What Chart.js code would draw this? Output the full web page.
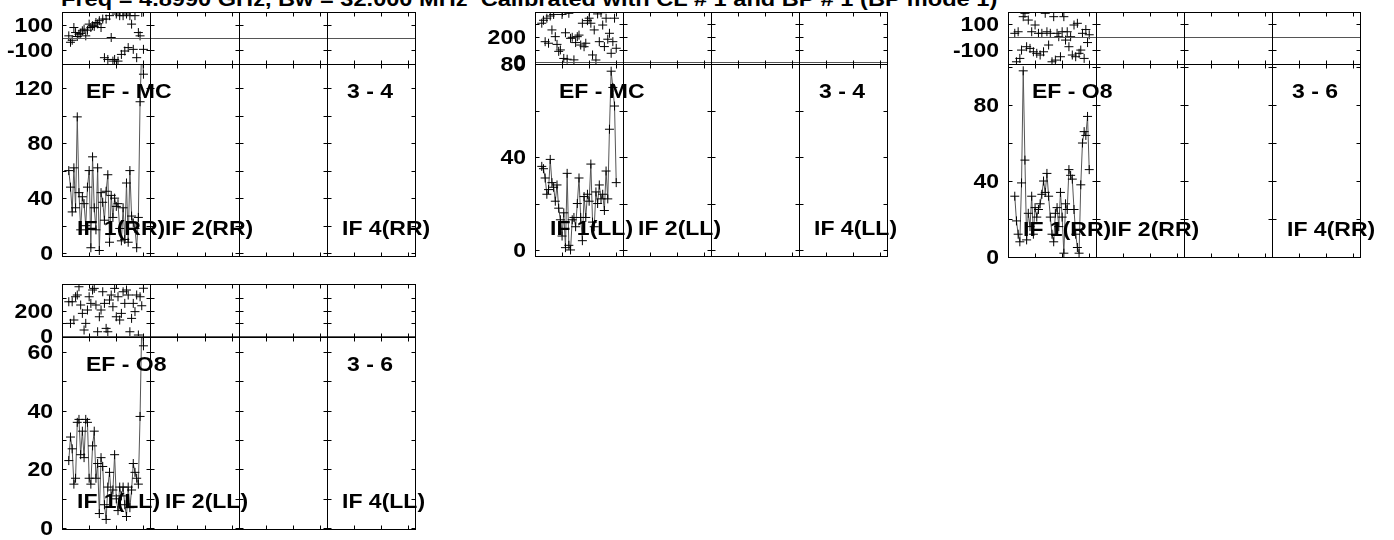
<!DOCTYPE html>
<html>
<head>
<meta charset="utf-8">
<script src="https://cdn.jsdelivr.net/npm/chart.js@4/dist/chart.umd.min.js"></script>
<style>
  body { margin: 0; background: #fff; width: 1394px; height: 540px; overflow: hidden; position: relative; }
  #title {
    position: absolute; left: 61px; top: -12px; line-height: 20px;
    font: bold 19.5px "Liberation Sans", Arial, sans-serif; color: #000;
    white-space: pre; transform: scaleX(1.21); transform-origin: left top;
  }
  canvas { position: absolute; left: 0; top: 0; }
</style>
</head>
<body>
<div id="title">Freq = 4.8990 GHz, Bw = 32.000 MHz  Calibrated with CL # 1 and BP # 1 (BP mode 1)</div>
<script>
// channels plotted in IF 1 (x axis runs 0..208, 52 channels per IF)
const channels = [4, 5, 6, 7, 8, 9, 10, 11, 12, 13, 14, 15, 16, 17, 18, 19, 20, 21, 22, 23, 24, 25,
  26, 27, 28, 29, 30, 31, 32, 33, 34, 35, 36, 37, 38, 39, 40, 41, 42, 43, 44, 45, 46, 47, 48];
const ifEdges = [52, 104, 156];
const xTicks = [16, 32, 48, 68, 84, 100, 120, 136, 152, 172, 188, 204];

// EF - MC (3 - 4)
const ampEfMcRR = [60, 48, 30, 62, 33, 99, 44, 17, 41, 36, 20, 48, 60, 4, 70, 33, 17, 62, 2, 44, 37, 24, 45,
  57, 8, 42, 26, 40, 34, 36, 18, 9, 33, 10, 51, 8, 60, 27, 22, 18, 4, 26, 110, 150, 130];
const phaseEfMcRR = [15, -36, -20, 81, 41, 10, 28, 35, 55, 68, 15, 60, 108, 81, 95, 90, 121, 110, 135, 81, 148,
  -158, 148, -172, 175, 2, -185, -172, 188, -185, 175, -132, 175, -105, 188, -78, 175, 108, -92, 175, -158, 41, 15, 201, -92];
const ampEfMcLL = [36, 35, 31, 24, 26, 39, 29, 27, 21, 28, 18, 13, 6, 16, 1, 33, 2, 0, 13, 14, 10, 20, 31,
  14, 4, 23, 14, 24, 21, 37, 12, 10, 25, 20, 28, 22, 24, 17, 34, 22, 52, 77, 70, 62, 29];
const phaseEfMcLL = [304, 327, 161, 343, 149, 360, 252, 372, 200, 140, 86, 97, 372, 31, 230, 25, 381, 187, 195,
  20, 154, 200, 212, 135, 304, 122, 149, 324, 343, 304, 58, 252, 19, 376, 161, 386, 290, 123, 343, 180, 226, 71, 161, 343, 110];

// EF - O8 (3 - 6)
const ampEfO8RR = [32, 19, 12, 8, 39, 98, 51, 9, 23, 16, 32, 12, 26, 21, 25, 28, 33, 40, 34, 44, 32, 21, 12,
  8, 23, 26, 16, 34, 21, 2, 28, 25, 46, 43, 41, 25, 12, 5, 2, 38, 60, 66, 64, 74, 46];
const phaseEfO8RR = [31, -188, 43, -162, -98, 159, 185, -72, 133, -85, 43, -111, 95, -123, 31, -136, 31, -111,
  185, 43, -59, 31, -188, 159, -175, 31, 5, -149, 43, 159, -21, 43, -72, 5, -136, 95, -149, 108, -123, -98, 31, -162, 60, -40, 20];
const ampEfO8LL = [23, 31, 27, 15, 17, 36, 37, 25, 33, 24, 37, 36, 17, 15, 28, 33, 17, 22, 5, 24, 21, 8, 3,
  14, 19, 11, 13, 25, 10, 6, 14, 11, 14, 8, 4, 14, 7, 13, 22, 19, 17, 15, 38, 70, 62];
const phaseEfO8LL = [272, 99, 272, 126, 312, 326, 392, 246, 179, 46, 99, 206, 312, 259, 366, 379, 246, 32, 152,
  206, 352, 259, 59, 32, 286, 326, 232, 379, 152, 312, 126, 179, 352, 259, 366, 326, 32, 139, 259, 193, 326, 6, 312, 240, 380];

// y ticks and labelled ticks
const phaseTicksPm = [-100, 100];
const phaseLabelsPm = [-100, 100];
const phaseTicksPos = [100, 200, 300];
const phaseLabelsPos = [0, 200];
const ampTicks120 = [0, 20, 40, 60, 80, 100, 120];
const ampLabels120 = [0, 40, 80, 120];
const ampTicks80 = [0, 20, 40, 60, 80];
const ampTicks100 = [0, 20, 40, 60, 80, 100];
const ampLabels80 = [0, 40, 80];
const ampTicks60 = [0, 10, 20, 30, 40, 50, 60];
const ampLabels60 = [0, 20, 40, 60];

const panels = [
  { name: 'EF - MC', pair: '3 - 4', pol: 'RR', amp: ampEfMcRR, phase: phaseEfMcRR,
    phaseRange: [-208, 204], phaseTicks: phaseTicksPm, phaseLabels: phaseLabelsPm,
    ampRange: [-2, 137.4], ampTicks: ampTicks120, ampLabels: ampLabels120,
    box: { left: 62, right: 415, top: 12, split: 64, bottom: 256 } },
  { name: 'EF - MC', pair: '3 - 4', pol: 'LL', amp: ampEfMcLL, phase: phaseEfMcLL,
    phaseRange: [-12, 391], phaseTicks: phaseTicksPos, phaseLabels: phaseLabelsPos,
    ampRange: [-2.6, 80.1], ampTicks: ampTicks80, ampLabels: ampLabels80,
    box: { left: 535, right: 887, top: 12, split: 64, bottom: 256 } },
  { name: 'EF - O8', pair: '3 - 6', pol: 'RR', amp: ampEfO8RR, phase: phaseEfO8RR,
    phaseRange: [-205, 195], phaseTicks: phaseTicksPm, phaseLabels: phaseLabelsPm,
    ampRange: [0, 101.6], ampTicks: ampTicks100, ampLabels: ampLabels80,
    box: { left: 1008, right: 1360, top: 12, split: 64, bottom: 257 } },
  { name: 'EF - O8', pair: '3 - 6', pol: 'LL', amp: ampEfO8LL, phase: phaseEfO8LL,
    phaseRange: [-10, 414], phaseTicks: phaseTicksPos, phaseLabels: phaseLabelsPos,
    ampRange: [-0.25, 65], ampTicks: ampTicks60, ampLabels: ampLabels60,
    box: { left: 62, right: 415, top: 284, split: 337, bottom: 529 } },
];

const W = 1394, H = 540;
const FONT = 'bold 19.5px "Liberation Sans", Arial, sans-serif';

function stretchText(ctx, text, x, y, align) {
  ctx.save();
  ctx.translate(x, y);
  ctx.scale(1.18, 1);
  ctx.textAlign = align;
  ctx.fillText(text, 0, 0);
  ctx.restore();
}

function line(ctx, x1, y1, x2, y2) {
  ctx.beginPath();
  ctx.moveTo(x1, y1);
  ctx.lineTo(x2, y2);
  ctx.stroke();
}

// frame, dividers, ticks and texts in the AIPS style
const framePlugin = {
  id: 'frame',
  afterDraw(chart, args, opts) {
    const { ctx, chartArea: a, scales: { x, y } } = chart;
    const L = a.left + 0.5, R = a.right + 0.5, T = a.top + 0.5, B = a.bottom + 0.5;
    ctx.save();
    ctx.lineWidth = 1;
    if (opts.zeroLine) {
      ctx.strokeStyle = '#555';
      const pz = Math.round(y.getPixelForValue(0)) + 0.5;
      line(ctx, L, pz, R, pz);
    }
    ctx.strokeStyle = '#000';
    ctx.strokeRect(L, T, a.right - a.left, a.bottom - a.top);
    const divs = ifEdges.map(v => Math.round(x.getPixelForValue(v)) + 0.5);
    divs.forEach(px => line(ctx, px, T, px, B));
    xTicks.forEach(v => {
      const px = Math.round(x.getPixelForValue(v)) + 0.5;
      line(ctx, px, T, px, T + 4);
      line(ctx, px, B, px, B - 4);
    });
    opts.ticks.forEach(v => {
      const py = Math.round(y.getPixelForValue(v)) + 0.5;
      line(ctx, L, py, L + 4, py);
      line(ctx, R - 4, py, R, py);
      divs.forEach(px => line(ctx, px - 4, py, px + 4, py));
    });
    ctx.fillStyle = '#000';
    ctx.font = FONT;
    ctx.textBaseline = 'alphabetic';
    opts.labels.forEach(v => {
      stretchText(ctx, String(v), a.left - 9, y.getPixelForValue(v) + 7, 'right');
    });
    if (opts.name) {
      stretchText(ctx, opts.name, a.left + 24, a.top + 34, 'left');
      stretchText(ctx, opts.pair, a.right - 22, a.top + 34, 'right');
      const starts = [a.left].concat(divs.map(d => d - 0.5));
      [0, 1, 3].forEach(i => stretchText(ctx, 'IF ' + (i + 1) + '(' + opts.pol + ')', starts[i] + 15, a.bottom - 21, 'left'));
    }
    ctx.restore();
  }
};

function makeChart(box, top, bottom, values, range, opts, withLine) {
  const canvas = document.createElement('canvas');
  canvas.width = W;
  canvas.height = H;
  document.body.appendChild(canvas);
  return new Chart(canvas.getContext('2d'), {
    type: 'scatter',
    data: {
      datasets: [{
        data: channels.map((c, i) => ({ x: c, y: values[i] })),
        showLine: withLine,
        borderColor: '#555',
        borderWidth: 1,
        pointStyle: 'cross',
        pointRadius: 4.5,
        pointBorderColor: '#000',
        pointBorderWidth: 1,
        pointBackgroundColor: '#000',
      }],
    },
    options: {
      responsive: false,
      animation: false,
      devicePixelRatio: 1,
      events: [],
      layout: { padding: { left: box.left, right: W - box.right, top: top, bottom: H - bottom } },
      scales: {
        x: { type: 'linear', min: 0, max: 208, display: false },
        y: { type: 'linear', min: range[0], max: range[1], display: false },
      },
      plugins: {
        legend: { display: false },
        tooltip: { enabled: false },
        frame: opts,
      },
    },
    plugins: [framePlugin],
  });
}

panels.forEach(p => {
  const b = p.box;
  makeChart(b, b.top, b.split, p.phase, p.phaseRange,
    { ticks: p.phaseTicks, labels: p.phaseLabels, zeroLine: true }, false);
  makeChart(b, b.split, b.bottom, p.amp, p.ampRange,
    { ticks: p.ampTicks, labels: p.ampLabels, name: p.name, pair: p.pair, pol: p.pol }, true);
});
</script>
</body>
</html>
